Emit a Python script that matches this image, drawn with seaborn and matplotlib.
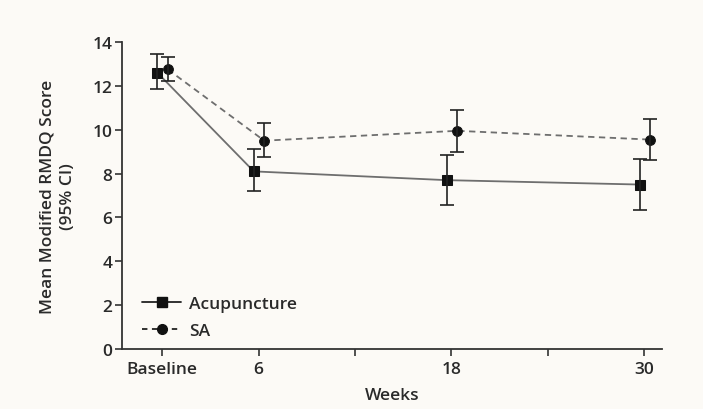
import matplotlib
matplotlib.use("Agg")
import matplotlib.pyplot as plt
import seaborn as sns
import pandas as pd
import numpy as np
from matplotlib.lines import Line2D

weeks = [0, 6, 18, 30]
acu_mean = [12.6, 8.1, 7.7, 7.5]
acu_low = [11.85, 7.2, 6.55, 6.35]
acu_high = [13.45, 9.1, 8.85, 8.65]
sa_mean = [12.75, 9.5, 9.95, 9.55]
sa_low = [12.2, 8.75, 9.0, 8.6]
sa_high = [13.3, 10.3, 10.9, 10.5]
tick_pos = [0, 6, 12, 18, 24, 30]
tick_labels = ["Baseline", "6", "", "18", "", "30"]
groups = ["Acupuncture", "SA"]

sns.set_style("ticks")
plt.rcParams['font.family'] = ['Open Sans', 'DejaVu Sans']
bg = "#fcfaf6"
txt = "#2a2a2a"
fs = 12.5

fig = plt.figure(figsize=(7.03, 4.10), dpi=100, facecolor=bg)
ax = fig.add_axes([122/703, 1-350/410, (662-122)/703, (350-43)/410])
ax.set_facecolor(bg)

off = {"Acupuncture": -0.3, "SA": 0.35}
df = pd.DataFrame({
    "week": weeks + weeks,
    "score": acu_mean + sa_mean,
    "group": ["Acupuncture"]*4 + ["SA"]*4,
})
df["x"] = df["week"] + df["group"].map(off)

sns.lineplot(data=df, x="x", y="score", hue="group", style="group",
             palette={"Acupuncture": "#6e6e6e", "SA": "#6e6e6e"},
             dashes={"Acupuncture": "", "SA": (3.5, 2.5)},
             markers={"Acupuncture": "s", "SA": "o"},
             markersize=7.5, linewidth=1.3, ax=ax, legend=False, zorder=2)

for name, m, lo, hi in [("Acupuncture", acu_mean, acu_low, acu_high),
                        ("SA", sa_mean, sa_low, sa_high)]:
    xs = np.array(weeks) + off[name]
    m = np.array(m); lo = np.array(lo); hi = np.array(hi)
    ax.errorbar(xs, m, yerr=[m - lo, hi - m], fmt="none", ecolor="#222",
                elinewidth=1.2, capsize=5, capthick=1.2, zorder=3)

for line in ax.lines[:2]:
    line.set_markerfacecolor("#111")
    line.set_markeredgecolor("#111")
ax.lines[1].set_markersize(7)

ax.set_xlim(-2.5, 31.1)
ax.set_ylim(0, 14)
ax.set_xticks(tick_pos)
ax.set_xticklabels(tick_labels)
ax.set_yticks(np.arange(0, 15, 2))
ax.tick_params(axis="both", direction="out", length=5, width=1.2,
               color="#333", labelsize=fs, labelcolor=txt)
ax.tick_params(axis="x", pad=4)
ax.tick_params(axis="y", pad=2)
for lab in ax.get_xticklabels() + ax.get_yticklabels():
    lab.set_fontweight("semibold")
for s in ["top", "right"]:
    ax.spines[s].set_visible(False)
for s in ["left", "bottom"]:
    ax.spines[s].set_color("#333")
    ax.spines[s].set_linewidth(1.3)

ax.set_xlabel("Weeks", fontsize=fs, fontweight="semibold", color=txt, labelpad=7)
ax.set_ylabel("Mean Modified RMDQ Score\n(95% CI)", fontsize=fs,
              fontweight="semibold", color=txt, labelpad=12, linespacing=1.35)

handles = [Line2D([], [], color="#222", lw=1.3, marker="s", markersize=7.5,
                  markerfacecolor="#111", markeredgecolor="#111"),
           Line2D([], [], color="#222", lw=1.3, ls=(0, (3, 2.5)), marker="o",
                  markersize=7, markerfacecolor="#111", markeredgecolor="#111")]
leg = ax.legend(handles, groups, loc="lower left", bbox_to_anchor=(0.025, 0.01),
                frameon=False, fontsize=fs, handlelength=2.2, handletextpad=0.5,
                labelspacing=0.6, borderaxespad=0.0)
for t in leg.get_texts():
    t.set_fontweight("semibold")
    t.set_color(txt)

fig.savefig("out.png", dpi=100, facecolor=bg)
